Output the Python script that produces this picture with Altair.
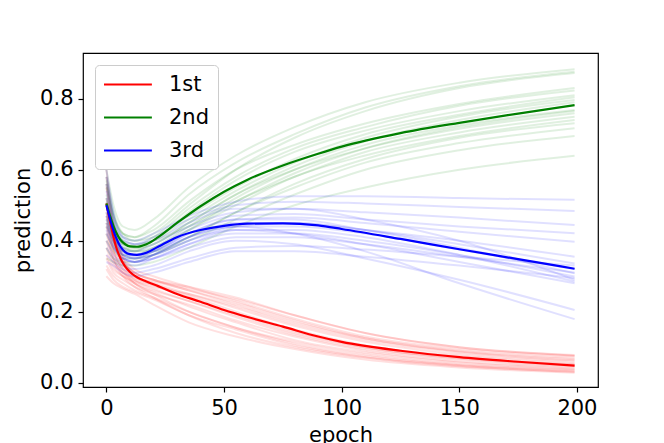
import altair as alt
import pandas as pd

CLASSES = ["1st", "2nd", "3rd"]
COLORS = ["#ff0000", "#008000", "#0000ff"]

# mean curves
X_MEAN = [0, 2, 4, 6, 8, 10, 13, 17, 22, 30, 40, 50, 60, 75, 90, 100, 125, 150, 175, 199]
MEAN_1ST = [0.505, 0.44, 0.385, 0.35, 0.327, 0.312, 0.297, 0.285, 0.272, 0.25, 0.228, 0.205,
            0.185, 0.158, 0.13, 0.115, 0.09, 0.072, 0.059, 0.048]
MEAN_2ND = [0.505, 0.46, 0.425, 0.402, 0.39, 0.384, 0.383, 0.39, 0.41, 0.45, 0.497, 0.538,
            0.572, 0.612, 0.645, 0.665, 0.703, 0.732, 0.758, 0.782]
MEAN_3RD = [0.50, 0.45, 0.41, 0.383, 0.368, 0.362, 0.36, 0.366, 0.383, 0.41, 0.43, 0.442,
            0.448, 0.449, 0.443, 0.433, 0.405, 0.376, 0.348, 0.321]

# individual runs (faint)
X_RUN = [0, 3, 7, 12, 20, 35, 55, 80, 110, 150, 199]
RUNS_1ST = [
    [0.60, 0.45, 0.36, 0.32, 0.30, 0.27, 0.23, 0.18, 0.13, 0.095, 0.075],
    [0.55, 0.43, 0.35, 0.31, 0.29, 0.26, 0.22, 0.17, 0.125, 0.09, 0.07],
    [0.50, 0.40, 0.34, 0.31, 0.29, 0.27, 0.24, 0.19, 0.14, 0.10, 0.078],
    [0.45, 0.37, 0.32, 0.30, 0.28, 0.25, 0.21, 0.16, 0.115, 0.08, 0.06],
    [0.42, 0.35, 0.31, 0.29, 0.275, 0.245, 0.20, 0.15, 0.105, 0.075, 0.055],
    [0.58, 0.44, 0.35, 0.30, 0.275, 0.24, 0.195, 0.145, 0.10, 0.07, 0.052],
    [0.38, 0.33, 0.30, 0.28, 0.26, 0.23, 0.19, 0.14, 0.10, 0.068, 0.05],
    [0.52, 0.40, 0.33, 0.29, 0.265, 0.23, 0.185, 0.135, 0.095, 0.065, 0.047],
    [0.35, 0.31, 0.29, 0.27, 0.25, 0.22, 0.175, 0.13, 0.09, 0.06, 0.044],
    [0.48, 0.38, 0.32, 0.28, 0.255, 0.215, 0.17, 0.12, 0.085, 0.057, 0.04],
    [0.33, 0.30, 0.28, 0.26, 0.24, 0.20, 0.155, 0.11, 0.075, 0.05, 0.035],
    [0.44, 0.35, 0.30, 0.27, 0.24, 0.19, 0.14, 0.10, 0.07, 0.046, 0.032],
    [0.30, 0.28, 0.265, 0.25, 0.22, 0.17, 0.13, 0.095, 0.065, 0.043, 0.028],
    [0.56, 0.42, 0.34, 0.31, 0.29, 0.265, 0.235, 0.19, 0.14, 0.10, 0.076],
    [0.40, 0.34, 0.31, 0.295, 0.285, 0.26, 0.225, 0.175, 0.125, 0.088, 0.066],
    [0.36, 0.32, 0.30, 0.285, 0.27, 0.25, 0.215, 0.165, 0.12, 0.085, 0.063],
    [0.47, 0.37, 0.31, 0.28, 0.25, 0.20, 0.155, 0.115, 0.08, 0.052, 0.038],
    [0.32, 0.29, 0.27, 0.255, 0.235, 0.19, 0.15, 0.105, 0.072, 0.048, 0.03],
]
RUNS_2ND = [
    [0.60, 0.50, 0.44, 0.43, 0.46, 0.55, 0.64, 0.72, 0.79, 0.845, 0.883],
    [0.55, 0.47, 0.42, 0.41, 0.44, 0.53, 0.62, 0.70, 0.775, 0.835, 0.876],
    [0.52, 0.45, 0.41, 0.40, 0.42, 0.50, 0.60, 0.69, 0.765, 0.83, 0.872],
    [0.48, 0.42, 0.39, 0.385, 0.41, 0.49, 0.58, 0.66, 0.72, 0.78, 0.823],
    [0.45, 0.40, 0.37, 0.37, 0.40, 0.48, 0.57, 0.65, 0.71, 0.765, 0.81],
    [0.58, 0.48, 0.42, 0.40, 0.41, 0.47, 0.55, 0.63, 0.70, 0.755, 0.804],
    [0.50, 0.43, 0.39, 0.38, 0.40, 0.46, 0.54, 0.62, 0.69, 0.75, 0.796],
    [0.42, 0.38, 0.36, 0.36, 0.38, 0.44, 0.52, 0.60, 0.67, 0.725, 0.768],
    [0.56, 0.46, 0.40, 0.38, 0.39, 0.45, 0.53, 0.60, 0.66, 0.715, 0.759],
    [0.40, 0.37, 0.35, 0.35, 0.37, 0.43, 0.51, 0.58, 0.65, 0.705, 0.749],
    [0.47, 0.41, 0.38, 0.37, 0.38, 0.43, 0.50, 0.58, 0.64, 0.695, 0.740],
    [0.53, 0.44, 0.39, 0.37, 0.37, 0.41, 0.48, 0.56, 0.63, 0.69, 0.731],
    [0.38, 0.35, 0.34, 0.34, 0.36, 0.41, 0.48, 0.55, 0.62, 0.675, 0.717],
    [0.44, 0.39, 0.36, 0.35, 0.36, 0.40, 0.46, 0.53, 0.60, 0.655, 0.695],
    [0.35, 0.34, 0.33, 0.33, 0.34, 0.38, 0.44, 0.50, 0.55, 0.60, 0.639],
    [0.57, 0.47, 0.42, 0.41, 0.43, 0.51, 0.60, 0.67, 0.73, 0.785, 0.83],
    [0.46, 0.41, 0.38, 0.375, 0.39, 0.45, 0.53, 0.61, 0.68, 0.74, 0.79],
    [0.51, 0.44, 0.40, 0.39, 0.40, 0.44, 0.51, 0.59, 0.66, 0.72, 0.765],
]
RUNS_3RD = [
    [0.58, 0.47, 0.41, 0.40, 0.42, 0.47, 0.51, 0.525, 0.525, 0.52, 0.515],
    [0.54, 0.45, 0.40, 0.39, 0.41, 0.46, 0.50, 0.51, 0.505, 0.495, 0.484],
    [0.50, 0.43, 0.38, 0.37, 0.39, 0.44, 0.48, 0.49, 0.48, 0.465, 0.444],
    [0.47, 0.41, 0.37, 0.36, 0.38, 0.43, 0.47, 0.475, 0.46, 0.44, 0.421],
    [0.44, 0.40, 0.36, 0.35, 0.37, 0.42, 0.46, 0.465, 0.45, 0.425, 0.397],
    [0.52, 0.43, 0.37, 0.35, 0.36, 0.40, 0.44, 0.45, 0.43, 0.40, 0.355],
    [0.42, 0.38, 0.35, 0.34, 0.36, 0.41, 0.45, 0.45, 0.43, 0.39, 0.336],
    [0.56, 0.45, 0.38, 0.36, 0.37, 0.42, 0.46, 0.46, 0.43, 0.38, 0.308],
    [0.40, 0.36, 0.34, 0.33, 0.35, 0.39, 0.42, 0.42, 0.40, 0.36, 0.299],
    [0.48, 0.41, 0.36, 0.34, 0.35, 0.39, 0.43, 0.43, 0.41, 0.36, 0.285],
    [0.38, 0.35, 0.33, 0.32, 0.33, 0.37, 0.40, 0.39, 0.35, 0.29, 0.205],
    [0.45, 0.39, 0.35, 0.34, 0.36, 0.41, 0.44, 0.42, 0.37, 0.28, 0.179],
    [0.36, 0.34, 0.32, 0.31, 0.32, 0.35, 0.38, 0.385, 0.375, 0.355, 0.33],
    [0.50, 0.42, 0.37, 0.355, 0.37, 0.41, 0.44, 0.44, 0.42, 0.375, 0.32],
    [0.43, 0.38, 0.35, 0.34, 0.35, 0.38, 0.41, 0.41, 0.39, 0.355, 0.31],
    [0.34, 0.33, 0.31, 0.30, 0.31, 0.34, 0.37, 0.37, 0.355, 0.33, 0.295],
    [0.60, 0.48, 0.41, 0.39, 0.40, 0.45, 0.49, 0.49, 0.46, 0.40, 0.29],
    [0.46, 0.40, 0.36, 0.35, 0.36, 0.40, 0.43, 0.42, 0.39, 0.34, 0.28],
]

X_TICKS = [0, 50, 100, 150, 200]
Y_TICKS = [0.0, 0.2, 0.4, 0.6, 0.8]

rows_mean = []
for cls, vals in zip(CLASSES, [MEAN_1ST, MEAN_2ND, MEAN_3RD]):
    for x, v in zip(X_MEAN, vals):
        rows_mean.append({"epoch": x, "prediction": v, "cls": cls})
df_mean = pd.DataFrame(rows_mean)

rows_run = []
for cls, runs in zip(CLASSES, [RUNS_1ST, RUNS_2ND, RUNS_3RD]):
    for i, run in enumerate(runs):
        for x, v in zip(X_RUN, run):
            rows_run.append({"epoch": x, "prediction": v, "cls": cls, "run": f"{cls}-{i}"})
df_run = pd.DataFrame(rows_run)

FONT = "DejaVu Sans"

x_enc = alt.X("epoch:Q",
              scale=alt.Scale(domain=[-9.95, 208.95], nice=False, zero=False),
              axis=alt.Axis(values=X_TICKS, title="epoch", format="d"))
y_enc = alt.Y("prediction:Q",
              scale=alt.Scale(domain=[-0.0121, 0.9287], nice=False, zero=False),
              axis=alt.Axis(values=Y_TICKS, title="prediction", format=".1f"))
color_scale = alt.Scale(domain=CLASSES, range=COLORS)

legend = alt.Legend(
    title=None, orient="none", legendX=12, legendY=12,
    symbolType="M-1,0L3.56,0", symbolSize=441, symbolStrokeWidth=2, symbolOpacity=1,
    labelFontSize=21, labelFont=FONT, labelColor="black",
    labelOffset=43, rowPadding=11, padding=8,
    fillColor="white", strokeColor="#cccccc", cornerRadius=4,
)

faint = alt.Chart(df_run).mark_line(
    interpolate="monotone", strokeWidth=2, opacity=0.12
).encode(
    x=x_enc, y=y_enc,
    color=alt.Color("cls:N", scale=color_scale, legend=legend),
    detail="run:N",
)

mean = alt.Chart(df_mean).mark_line(
    interpolate="monotone", strokeWidth=2.2
).encode(
    x=x_enc, y=y_enc,
    color=alt.Color("cls:N", scale=color_scale, legend=legend),
)

chart = alt.layer(faint, mean).properties(
    width=515, height=334,
    autosize=alt.AutoSizeParams(type="none"),
    padding={"left": 75, "top": 45, "right": 58, "bottom": 56},
).configure_view(
    stroke="black", strokeWidth=1.2
).configure_axis(
    grid=False, domain=False,
    labelFont=FONT, labelFontSize=21, labelColor="black",
    titleFont=FONT, titleFontSize=21, titleFontWeight="normal", titleColor="black",
    tickColor="black", tickSize=5, tickWidth=1.2,
    labelPadding=5, titlePadding=6,
)

chart.save("out.html", embed_options={"renderer": "svg", "actions": False})
